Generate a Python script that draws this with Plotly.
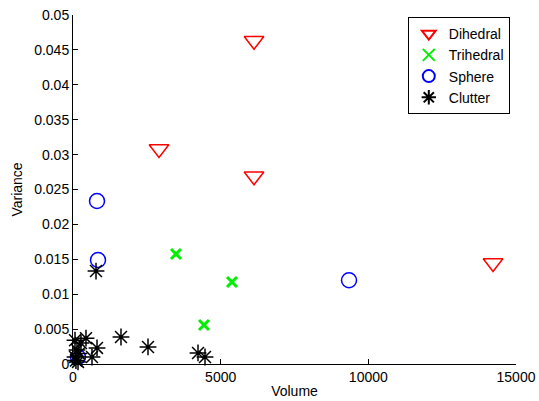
import plotly.graph_objects as go

dihedral_x = [6129, 2912, 6129, 14222]
dihedral_y = [0.0463, 0.0308, 0.0269, 0.01447]

trihedral_x = [3488, 5384, 4436, 135]
trihedral_y = [0.01576, 0.01175, 0.00559, 0.0006]

sphere_x = [813, 847, 9346, 170]
sphere_y = [0.02335, 0.0149, 0.0120, 0.0010]

clutter_x = [779, 1625, 2540, 4233, 4470, 68, 440, 813, 643, 135, 170, 68, 270, 200, 100]
clutter_y = [0.01332, 0.00387, 0.00244, 0.00158, 0.0010, 0.0034, 0.0037, 0.0023, 0.0010, 0.0020, 0.0003, 0.0010, 0.0030, 0.0015, 0.0005]

x_ticks = [0, 5000, 10000, 15000]
y_ticks = [0, 0.005, 0.01, 0.015, 0.02, 0.025, 0.03, 0.035, 0.04, 0.045, 0.05]
y_tick_labels = ["0", "0.005", "0.01", "0.015", "0.02", "0.025", "0.03", "0.035", "0.04", "0.045", "0.05"]

fig = go.Figure()
fig.add_trace(go.Scatter(x=dihedral_x, y=dihedral_y, mode="markers", name="Dihedral",
                         marker=dict(symbol="triangle-down-open", size=17, color="red", line=dict(width=1.5)),
                         cliponaxis=False))
fig.add_trace(go.Scatter(x=trihedral_x, y=trihedral_y, mode="markers", name="Trihedral",
                         marker=dict(symbol="x-thin-open", size=10, color="#00ee00", line=dict(width=3, color="#00ee00")),
                         cliponaxis=False))
fig.add_trace(go.Scatter(x=sphere_x, y=sphere_y, mode="markers", name="Sphere",
                         marker=dict(symbol="circle-open", size=15, color="blue", line=dict(width=1.5)),
                         cliponaxis=False))
fig.add_trace(go.Scatter(x=clutter_x, y=clutter_y, mode="markers", name="Clutter",
                         marker=dict(symbol="asterisk-open", size=14, color="black", line=dict(width=1.5, color="black")),
                         cliponaxis=False))

axis_font = dict(family="Liberation Sans, Arial, sans-serif", size=14, color="black")
fig.update_layout(
    width=539, height=401,
    margin=dict(l=73, r=23, t=15, b=37, autoexpand=False),
    paper_bgcolor="white", plot_bgcolor="white",
    font=axis_font,
    showlegend=True,
    legend=dict(x=0.986, y=0.994, xanchor="right", yanchor="top",
                bordercolor="black", borderwidth=1, bgcolor="white",
                font=dict(family="Liberation Sans, Arial, sans-serif", size=14, color="black"),
                itemsizing="constant", tracegroupgap=0, itemwidth=30),
    xaxis=dict(range=[0, 15000], tickvals=x_ticks, ticktext=[str(v) for v in x_ticks],
               ticks="inside", ticklen=5, tickcolor="black", showline=True, linecolor="black",
               linewidth=1, showgrid=False, zeroline=False, mirror=False, automargin=False,
               title=dict(text="Volume", standoff=2, font=axis_font), tickfont=axis_font),
    yaxis=dict(range=[0, 0.05], tickvals=y_ticks, ticktext=y_tick_labels,
               ticks="inside", ticklen=5, tickcolor="black", showline=True, linecolor="black",
               linewidth=1, showgrid=False, zeroline=False, mirror=False, automargin=False,
               title=dict(text="Variance", standoff=8, font=axis_font), tickfont=axis_font),
)

fig.write_html("out.html", config={"displayModeBar": False},
               post_script="document.body.style.margin='0px';document.body.style.overflow='hidden';")
